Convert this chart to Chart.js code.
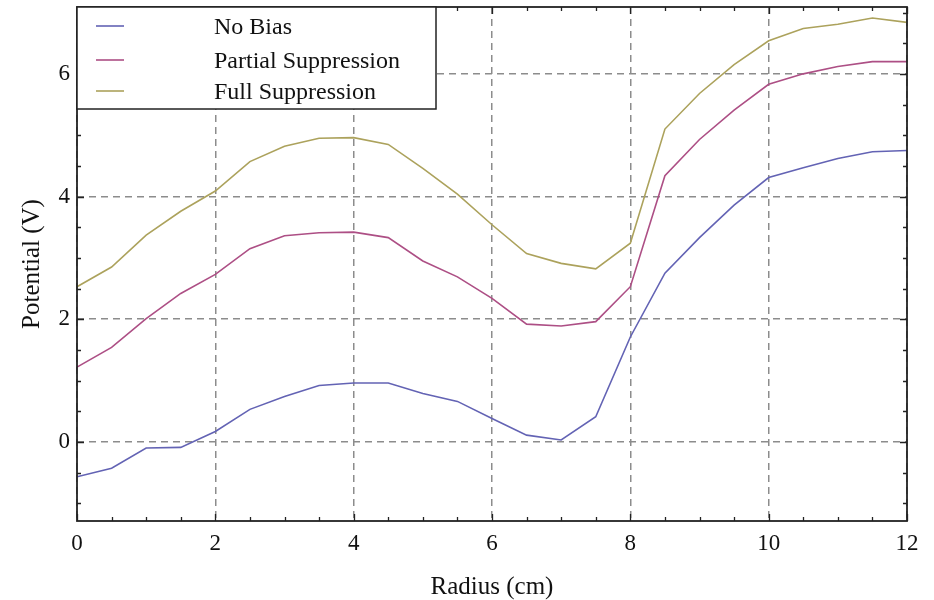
<!DOCTYPE html>
<html>
<head>
<meta charset="utf-8">
<title>Potential vs Radius</title>
<script src="https://cdn.jsdelivr.net/npm/chart.js@4.4.1/dist/chart.umd.min.js"></script>
<style>
  html, body { margin: 0; padding: 0; background: #fff; }
  #wrap { width: 934px; height: 600px; }
</style>
</head>
<body>
<div id="wrap"><canvas id="chart" width="934" height="600"></canvas></div>
<script>
// dati
const radius = [0, 0.5, 1, 1.5, 2, 2.5, 3, 3.5, 4, 4.5, 5, 5.5, 6, 6.5, 7, 7.5, 8, 8.5, 9, 9.5, 10, 10.5, 11, 11.5, 12];
const noBias = [-0.57, -0.43, -0.10, -0.09, 0.17, 0.53, 0.74, 0.92, 0.96, 0.96, 0.79, 0.66, 0.38, 0.11, 0.03, 0.41, 1.71, 2.75, 3.33, 3.86, 4.31, 4.47, 4.62, 4.73, 4.75];
const partialSuppression = [1.22, 1.54, 2.01, 2.42, 2.73, 3.15, 3.36, 3.41, 3.42, 3.33, 2.95, 2.69, 2.34, 1.92, 1.89, 1.96, 2.53, 4.34, 4.93, 5.41, 5.83, 6.00, 6.12, 6.20, 6.20];
const fullSuppression = [2.53, 2.85, 3.37, 3.76, 4.09, 4.57, 4.82, 4.95, 4.96, 4.85, 4.46, 4.04, 3.54, 3.07, 2.91, 2.82, 3.24, 5.10, 5.68, 6.15, 6.54, 6.74, 6.81, 6.91, 6.84];

const seriesNames = ["No Bias", "Partial Suppression", "Full Suppression"];
const seriesColors = ["#6363b4", "#ad4f85", "#aca25c"];
const xTicks = [0, 2, 4, 6, 8, 10, 12];
const yTicks = [0, 2, 4, 6];

const serif = "'Liberation Serif', 'Times New Roman', serif";

const toPoints = ys => ys.map((y, i) => ({ x: radius[i], y: y }));

// cornice, tacche interne e legenda stile Mathematica
const framePlugin = {
  id: "frame",
  afterDraw(chart) {
    const { ctx, chartArea: a, scales: { x, y } } = chart;
    ctx.save();
    ctx.strokeStyle = "#222";
    ctx.lineWidth = 1.3;

    // tacche
    ctx.beginPath();
    for (let v = 0; v <= 12.001; v += 0.5) {
      const px = Math.round(x.getPixelForValue(v)) + 0.5;
      const len = (v % 2 === 0) ? 7 : 4;
      ctx.moveTo(px, a.bottom); ctx.lineTo(px, a.bottom - len);
      ctx.moveTo(px, a.top); ctx.lineTo(px, a.top + len);
    }
    for (let v = -1; v <= 7.001; v += 0.5) {
      const py = Math.round(y.getPixelForValue(v)) + 0.5;
      const len = (v % 2 === 0) ? 7 : 4;
      ctx.moveTo(a.left, py); ctx.lineTo(a.left + len, py);
      ctx.moveTo(a.right, py); ctx.lineTo(a.right - len, py);
    }
    ctx.stroke();

    // cornice
    ctx.lineWidth = 1.8;
    ctx.strokeRect(a.left, a.top, a.right - a.left, a.bottom - a.top);

    // legenda
    const bx = a.left, by = a.top, bw = 359, bh = 102;
    ctx.fillStyle = "#fff";
    ctx.fillRect(bx, by, bw, bh);
    ctx.lineWidth = 1.5;
    ctx.strokeStyle = "#222";
    ctx.strokeRect(bx, by, bw, bh);

    ctx.font = "24px " + serif;
    ctx.textBaseline = "middle";
    ctx.textAlign = "left";
    const rows = [19, 53, 84];
    chart.data.datasets.forEach((ds, i) => {
      const ly = by + rows[i];
      ctx.strokeStyle = ds.borderColor;
      ctx.lineWidth = 1.6;
      ctx.beginPath();
      ctx.moveTo(bx + 19, ly);
      ctx.lineTo(bx + 47, ly);
      ctx.stroke();
      ctx.fillStyle = "#111";
      ctx.fillText(ds.label, bx + 137, ly + 2);
    });
    ctx.restore();
  }
};

const ctx = document.getElementById("chart").getContext("2d");

new Chart(ctx, {
  type: "line",
  data: {
    datasets: [
      { label: seriesNames[0], data: toPoints(noBias), borderColor: seriesColors[0] },
      { label: seriesNames[1], data: toPoints(partialSuppression), borderColor: seriesColors[1] },
      { label: seriesNames[2], data: toPoints(fullSuppression), borderColor: seriesColors[2] }
    ]
  },
  options: {
    responsive: false,
    devicePixelRatio: 1,
    animation: false,
    layout: { padding: { left: 0, top: 7, right: 27, bottom: 0 } },
    elements: {
      line: { borderWidth: 1.6, tension: 0, fill: false },
      point: { radius: 0, hoverRadius: 0 }
    },
    plugins: {
      legend: { display: false },
      tooltip: { enabled: false }
    },
    scales: {
      x: {
        type: "linear",
        min: 0,
        max: 12,
        afterBuildTicks: s => { s.ticks = xTicks.map(v => ({ value: v })); },
        afterFit: s => {
          s.height = 79;
          s.paddingLeft = 0; s.paddingRight = 0;
        },
        ticks: {
          color: "#111",
          font: { family: serif, size: 23 },
          padding: 9,
          maxRotation: 0
        },
        grid: {
          color: "#8c8c8c",
          lineWidth: 1.5,
          drawTicks: false
        },
        border: { display: false, dash: [7, 5] },
        title: {
          display: true,
          text: "Radius (cm)",
          color: "#111",
          font: { family: serif, size: 25, lineHeight: 1 },
          padding: { top: 0, bottom: 0 }
        }
      },
      y: {
        type: "linear",
        min: -1.29,
        max: 7.09,
        afterBuildTicks: s => { s.ticks = yTicks.map(v => ({ value: v })); },
        afterFit: s => {
          s.width = 77;
          s.paddingTop = 0; s.paddingBottom = 0;
        },
        ticks: {
          color: "#111",
          font: { family: serif, size: 23 },
          padding: 7
        },
        grid: {
          color: "#8c8c8c",
          lineWidth: 1.5,
          drawTicks: false
        },
        border: { display: false, dash: [7, 5] },
        title: {
          display: true,
          text: "Potential (V)",
          color: "#111",
          font: { family: serif, size: 25, lineHeight: 1 },
          padding: { top: 20, bottom: 0 }
        }
      }
    }
  },
  plugins: [framePlugin]
});
</script>
</body>
</html>
